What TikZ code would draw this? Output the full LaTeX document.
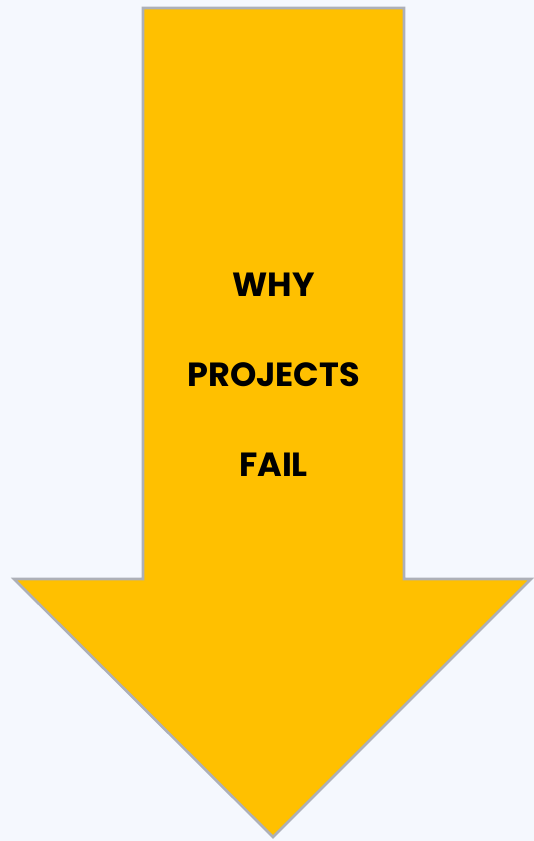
\documentclass[tikz,border=0pt]{standalone}
\usepackage{fontspec}
\setmainfont{Poppins}
\usepackage{tikz}
\usetikzlibrary{backgrounds, calc}
\definecolor{bgblue}{HTML}{F5F8FE}
\definecolor{arrowgold}{HTML}{FFC000}
\definecolor{rimgray}{HTML}{ADB0B8}
\tikzset{
	arrowbody/.style={fill=arrowgold, draw=rimgray, line width=2.6pt, line join=miter},
	bigword/.style={font=\bfseries\fontsize{33.5}{36}\selectfont, text=black, inner sep=0pt}
}

\begin{document}
\begin{tikzpicture}[x=1pt, y=-1pt]
			\fill[bgblue] (0, 0) rectangle (534, 841);
			\useasboundingbox (0, 0) rectangle (534, 841);
			
			\coordinate (A) at (143, 8);
			\coordinate (B) at (404, 8);
			\coordinate (C) at (404, 579);
			\coordinate (D) at (531, 579);
			\coordinate (E) at (273, 837);
			\coordinate (F) at (14, 579);
			\coordinate (G) at (143, 579);
			
			\draw[arrowbody] (A) -- (B) -- (C) -- (D) -- (E) -- (F) -- (G) -- cycle;
			
			\node[bigword] (why) at (273.5, 285) {WHY};
			\node[bigword] (projects) at (273.5, 375) {PROJECTS};
			\node[bigword] (fail) at (273.5, 465) {FAIL};
			\end{tikzpicture}
\end{document}
